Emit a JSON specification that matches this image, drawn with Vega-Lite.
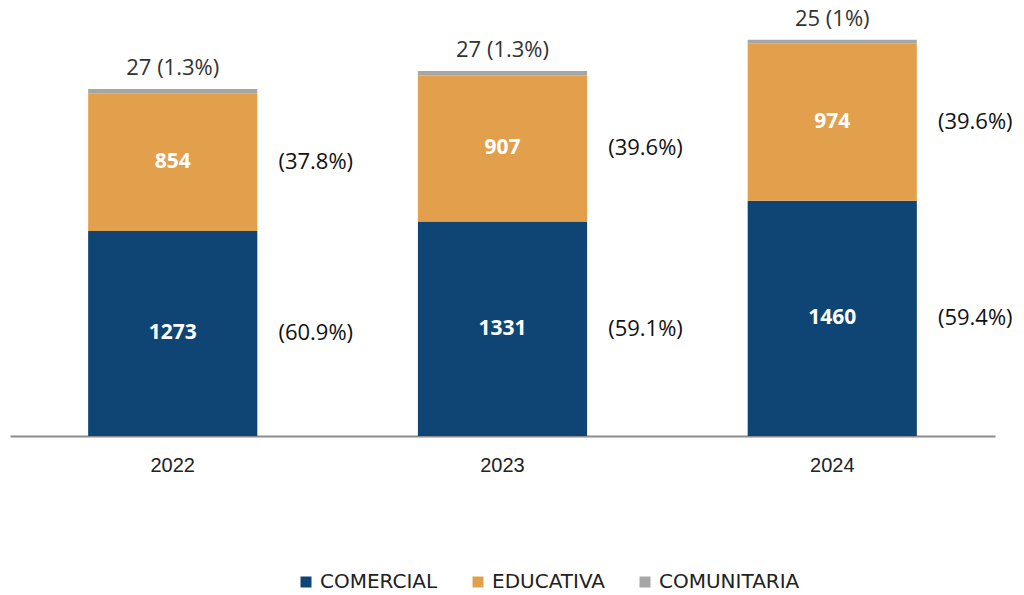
{
  "$schema": "https://vega.github.io/schema/vega-lite/v6.json",
  "width": 985,
  "height": 435,
  "autosize": {"type": "none"},
  "padding": {"top": 1, "left": 10, "right": 29, "bottom": 159},
  "background": "white",
  "config": {"view": {"stroke": null}},
  "data": {
    "values": [
      {"year": "2022", "type": "COMERCIAL", "order": 1, "value": 1273, "label": "1273", "pct": "(60.9%)"},
      {"year": "2022", "type": "EDUCATIVA", "order": 2, "value": 854, "label": "854", "pct": "(37.8%)"},
      {"year": "2022", "type": "COMUNITARIA", "order": 3, "value": 27, "label": "27 (1.3%)", "pct": ""},
      {"year": "2023", "type": "COMERCIAL", "order": 1, "value": 1331, "label": "1331", "pct": "(59.1%)"},
      {"year": "2023", "type": "EDUCATIVA", "order": 2, "value": 907, "label": "907", "pct": "(39.6%)"},
      {"year": "2023", "type": "COMUNITARIA", "order": 3, "value": 27, "label": "27 (1.3%)", "pct": ""},
      {"year": "2024", "type": "COMERCIAL", "order": 1, "value": 1460, "label": "1460", "pct": "(59.4%)"},
      {"year": "2024", "type": "EDUCATIVA", "order": 2, "value": 974, "label": "974", "pct": "(39.6%)"},
      {"year": "2024", "type": "COMUNITARIA", "order": 3, "value": 25, "label": "25 (1%)", "pct": ""}
    ]
  },
  "transform": [
    {"stack": "value", "groupby": ["year"], "sort": [{"field": "order", "order": "ascending"}], "as": ["v0", "v1"]}
  ],
  "encoding": {
    "x": {
      "field": "year", "type": "nominal", "title": null,
      "scale": {"paddingInner": 0.487, "paddingOuter": 0.237},
      "axis": {"labelAngle": 0, "ticks": false, "domainColor": "#8c8c8c", "domainWidth": 2, "labelPadding": 19, "labelFont": "Liberation Sans", "labelFontSize": 20, "labelColor": "#222222"}
    }
  },
  "layer": [
    {
      "mark": {"type": "bar"},
      "encoding": {
        "y": {"field": "v1", "type": "quantitative", "scale": {"domain": [0, 2700], "nice": false}, "axis": null},
        "y2": {"field": "v0"},
        "color": {
          "field": "type", "type": "nominal",
          "scale": {"domain": ["COMERCIAL", "EDUCATIVA", "COMUNITARIA"], "range": ["#0F4575", "#E2A04D", "#A6A6A6"]},
          "legend": {"title": null, "orient": "none", "legendX": 286, "legendY": 571, "direction": "horizontal", "symbolType": "square", "symbolSize": 121, "symbolStrokeWidth": 0, "labelFont": "DejaVu Sans", "labelFontSize": 20, "labelColor": "#222222", "columnPadding": 30, "labelOffset": 4}
        }
      }
    },
    {
      "transform": [
        {"filter": "datum.type != 'COMUNITARIA'"},
        {"fold": ["v0", "v1"], "as": ["edge", "pos"]},
        {"aggregate": [{"op": "mean", "field": "pos", "as": "mid"}], "groupby": ["year", "type", "label", "pct"]}
      ],
      "layer": [
        {
          "mark": {"type": "text", "color": "white", "font": "Open Sans", "fontWeight": "bold", "fontSize": 21, "baseline": "middle"},
          "encoding": {
            "y": {"field": "mid", "type": "quantitative"},
            "text": {"field": "label"}
          }
        },
        {
          "mark": {"type": "text", "color": "#111111", "font": "Open Sans", "fontSize": 22, "baseline": "middle", "dx": 143},
          "encoding": {
            "y": {"field": "mid", "type": "quantitative"},
            "text": {"field": "pct"}
          }
        }
      ]
    },
    {
      "transform": [{"filter": "datum.type == 'COMUNITARIA'"}],
      "mark": {"type": "text", "color": "#333333", "font": "Open Sans", "fontSize": 22, "baseline": "bottom", "dy": -9},
      "encoding": {
        "y": {"field": "v1", "type": "quantitative"},
        "text": {"field": "label"}
      }
    }
  ]
}
